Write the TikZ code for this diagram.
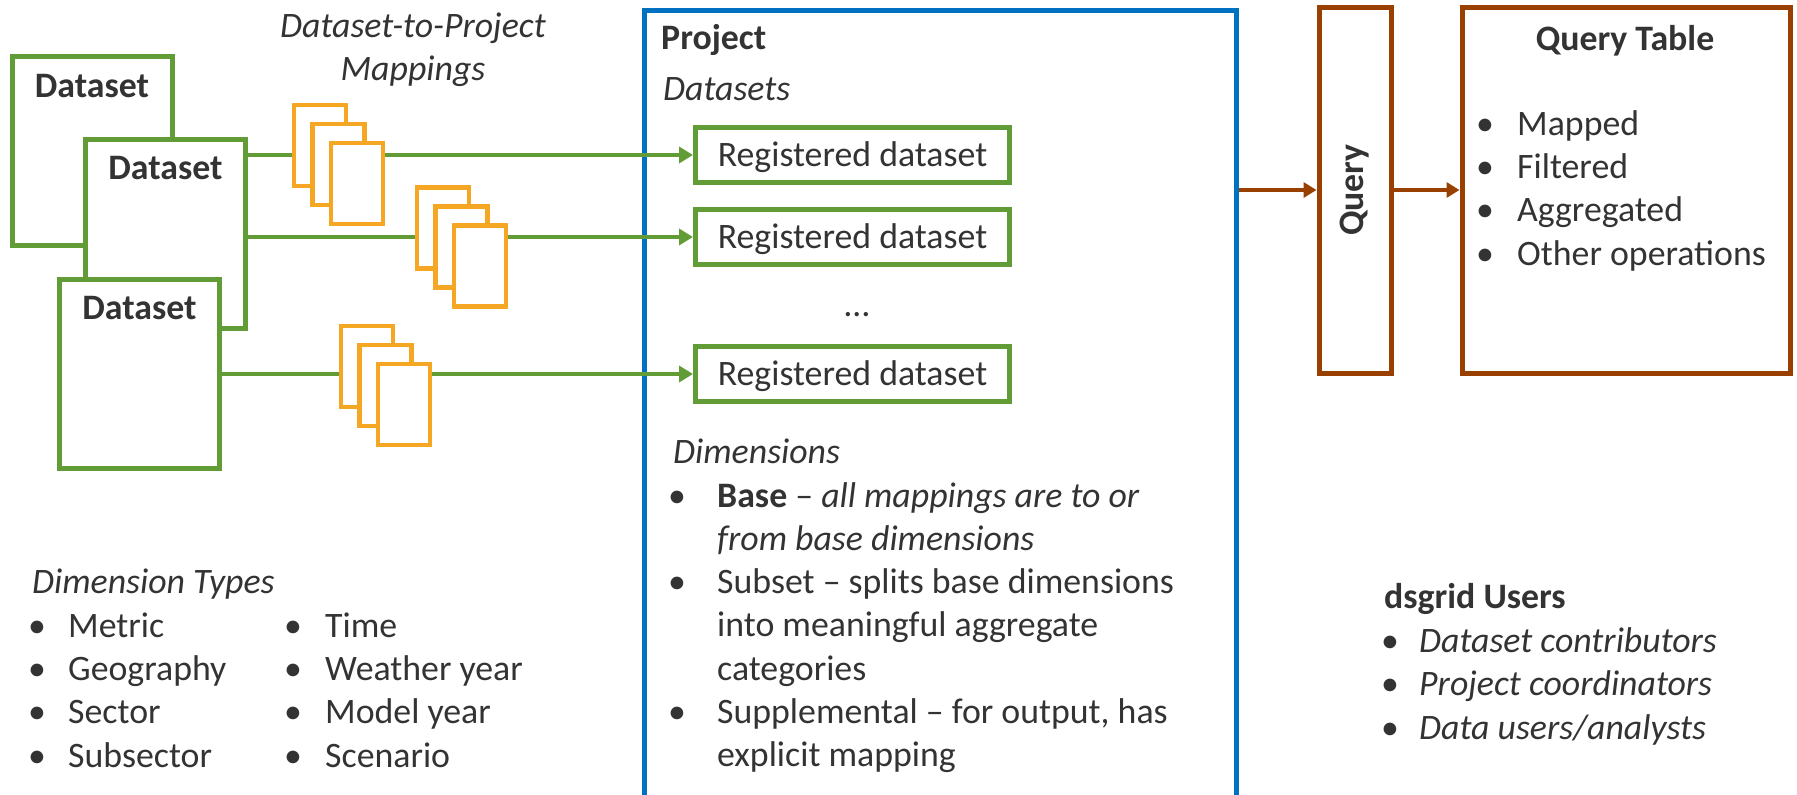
\documentclass[tikz,border=0pt]{standalone}
\usepackage{fontspec}
\setmainfont{Carlito}
\usetikzlibrary{arrows.meta,positioning}

\definecolor{dsgreen}{RGB}{98,156,54}
\definecolor{maporange}{RGB}{245,166,35}
\definecolor{projblue}{RGB}{0,112,192}
\definecolor{qbrown}{RGB}{153,64,0}
\definecolor{txtgray}{RGB}{51,51,51}

% bullet with a fixed hanging width
\newcommand{\bul}[1][41pt]{\makebox[#1][l]{•}}

\begin{document}
\begin{tikzpicture}[x=1pt, y=-1pt,
    every node/.style={font=\fontsize{35.8}{43.3}\selectfont, text=txtgray, inner sep=0pt},
    dataset/.style={rectangle, draw=dsgreen, fill=white, line width=5pt, minimum width=160pt, minimum height=189pt},
    sheet/.style={rectangle, draw=maporange, fill=white, line width=4.5pt, minimum width=52pt, minimum height=81pt},
    regbox/.style={rectangle, draw=dsgreen, line width=5pt, minimum width=314pt, minimum height=55pt, text height=22pt, text depth=0pt},
    link/.style={draw=dsgreen, line width=4.5pt, -{Triangle[length=14pt,width=16pt]}},
    qbox/.style={rectangle, draw=qbrown, line width=5pt, minimum height=366pt},
    qlink/.style={draw=qbrown, line width=4.5pt, -{Triangle[length=13pt,width=15pt]}},
    txt/.style={anchor=base west, align=left}
  ]
  \clip (0,0) rectangle (1797,795);

  % --- Datasets ---
  \node[dataset] (ds1) at (92,151) {};
  \node[dataset] (ds2) at (165.5,233.5) {};
  \node[dataset] (ds3) at (139.5,373.5) {};
  \node (ds1lbl) at ([yshift=-32pt]ds1.north) {\textbf{Dataset}};
  \node (ds2lbl) at ([yshift=-32pt]ds2.north) {\textbf{Dataset}};
  \node (ds3lbl) at ([yshift=-32pt]ds3.north) {\textbf{Dataset}};

  % multi-line nodes: base sits on the last line
  \node[align=center, anchor=base] (maptitle) at (413,80.3) {\textit{Dataset-to-Project}\\\textit{Mappings}};

  % --- Project ---
  \node[draw=projblue, line width=5pt, minimum width=592pt, minimum height=820pt, anchor=north west] (project) at (641.5,7.5) {};
  \node[txt] (projtitle) at (661,49) {\textbf{Project}};
  \node[txt] (dshead) at (663,100) {\textit{Datasets}};

  \node[regbox] (rd1) at (852.5,155) {Registered dataset};
  \node[regbox] (rd2) at (852.5,237) {Registered dataset};
  \node[regbox] (rd3) at (852.5,374) {Registered dataset};
  \node (dots) at (857,315) {…};

  \node[txt] (dimhead) at (673,463) {\textit{Dimensions}};
  \node[txt] (dimlist) at (668,766.8) {\bul[49pt]\textbf{Base} – \textit{all mappings are to or}\\
    \hspace*{49pt}\textit{from base dimensions}\\
    \bul[49pt]Subset – splits base dimensions\\
    \hspace*{49pt}into meaningful aggregate\\
    \hspace*{49pt}categories\\
    \bul[49pt]Supplemental – for output, has\\
    \hspace*{49pt}explicit mapping};

  % --- Dataset-to-project links ---
  \draw[link] (ds2.east |- rd1.west) -- (rd1.west);
  \draw[link] (ds2.east |- rd2.west) -- (rd2.west);
  \draw[link] (ds3.east |- rd3.west) -- (rd3.west);

  % --- Mapping sheets ---
  \node[sheet] (m1a) at (320,145.5) {};
  \node[sheet] (m1b) at (338.5,164.5) {};
  \node[sheet] (m1c) at (357,183.5) {};
  \node[sheet] (m2a) at (443,228) {};
  \node[sheet] (m2b) at (461.5,247) {};
  \node[sheet] (m2c) at (480,266) {};
  \node[sheet] (m3a) at (367,366.5) {};
  \node[sheet] (m3b) at (385.5,385.5) {};
  \node[sheet] (m3c) at (404,404.5) {};

  % --- Query ---
  \node[qbox, minimum width=72pt] (query) at (1355,190) {};
  \node[rotate=90] (querylbl) at (query.center) {\textbf{Query}};
  \node[qbox, minimum width=328pt] (qtable) at (1626,190) {};
  \node[anchor=base] (qtitle) at (1625,50) {\textbf{Query Table}};
  \node[txt] (qops) at (1476,265) {\bul Mapped\\ \bul Filtered\\ \bul Aggregated\\ \bul Other operations};

  \draw[qlink] (project.east |- query.west) -- (query.west);
  \draw[qlink] (query.east) -- (qtable.west);

  % --- Dimension types ---
  \node[txt] (typehead) at (32,593) {\textit{Dimension Types}};
  \node[txt] (typesa) at (28,767) {\bul[40pt]Metric\\ \bul[40pt]Geography\\ \bul[40pt]Sector\\ \bul[40pt]Subsector};
  \node[txt] (typesb) at (284,767) {\bul Time\\ \bul Weather year\\ \bul Model year\\ \bul Scenario};

  % --- Users ---
  \node[txt] (userhead) at (1384,608) {\textbf{dsgrid Users}};
  \node[txt] (userlist) at (1381,739) {\bul[38pt]\textit{Dataset contributors}\\
    \bul[38pt]\textit{Project coordinators}\\
    \bul[38pt]\textit{Data users/analysts}};
\end{tikzpicture}
\end{document}
